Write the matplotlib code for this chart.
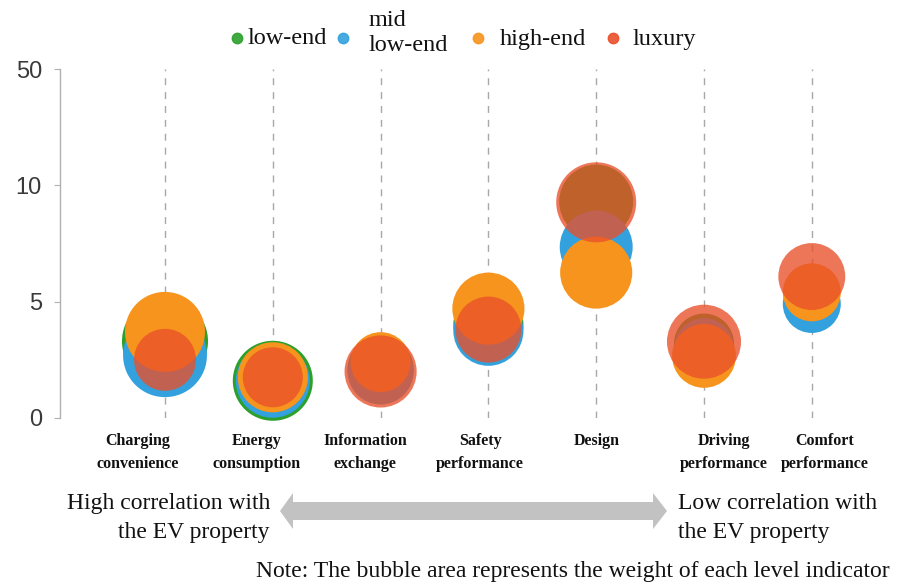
import numpy as np
import matplotlib
matplotlib.use("Agg")
import matplotlib.pyplot as plt
from matplotlib.lines import Line2D
from matplotlib.patches import Polygon

# ---------------- data ----------------
categories = ["Charging\nconvenience", "Energy\nconsumption", "Information\nexchange",
              "Safety\nperformance", "Design", "Driving\nperformance", "Comfort\nperformance"]
series_names = ["low-end", "mid\nlow-end", "high-end", "luxury"]

low_end_vals = [3.3, 1.6, 2.1, 4.0, 9.3, 3.2, 5.3]
mid_low_vals = [2.7, 1.6, 2.0, 3.75, 7.35, 3.0, 4.9]
high_end_vals = [3.7, 1.75, 2.4, 4.7, 6.25, 2.67, 5.4]
luxury_vals = [2.5, 1.75, 2.0, 3.8, 9.27, 3.28, 6.08]

# bubble weights (area-proportional)
low_end_w = [18.5, 16.0, 10.9, 12.3, 13.7, 9.0, 7.3]
mid_low_w = [17.6, 13.7, 10.9, 12.3, 13.3, 9.0, 8.4]
high_end_w = [16.0, 12.3, 9.0, 13.0, 13.0, 10.2, 8.4]
luxury_w = [9.6, 9.0, 13.0, 10.9, 16.0, 13.7, 11.2]

y_ticks = [0, 5, 10, 50]

# ---------------- style ----------------
W, H = 898, 585
fig = plt.figure(figsize=(W / 100, H / 100), dpi=100)

def fx(px):
    return px / W

def fy(py):
    return 1 - py / H

ax_left, ax_right, ax_top, ax_bot = 60, 870, 69, 418
ax = fig.add_axes([fx(ax_left), fy(ax_bot), fx(ax_right - ax_left), (ax_bot - ax_top) / H])

def fwd(v):
    v = np.asarray(v, dtype=float)
    return np.where(v <= 10, v / 5.0, 2.0 + (v - 10.0) / 40.0)

def inv(u):
    u = np.asarray(u, dtype=float)
    return np.where(u <= 2, u * 5.0, 10.0 + (u - 2.0) * 40.0)

ax.set_yscale("function", functions=(fwd, inv))
ax.set_ylim(0, 50)

x0_px, dx_px = 165, 107.8
ax.set_xlim((ax_left - x0_px) / dx_px, (ax_right - x0_px) / dx_px)

colors = ["#2ca02c", "#33a1dd", "#f7941d", "#e9502a"]
alphas = [1.0, 1.0, 1.0, 0.78]
SIZE_SCALE = 207.36

xs = np.arange(len(categories))
for xi in xs:
    ax.axvline(xi, color="#a8a8a8", lw=1.0, ls=(0, (5, 5)), zorder=0)

for k, (vals, w) in enumerate([(low_end_vals, low_end_w), (mid_low_vals, mid_low_w),
                               (high_end_vals, high_end_w), (luxury_vals, luxury_w)]):
    ax.scatter(xs, vals, s=np.array(w) * SIZE_SCALE, color=colors[k], alpha=alphas[k],
               linewidths=0, zorder=2 + k, clip_on=False)

for s in ["top", "right", "bottom"]:
    ax.spines[s].set_visible(False)
ax.spines["left"].set_color("#b0b0b0")
ax.spines["left"].set_linewidth(1.0)
ax.set_yticks(y_ticks)
ax.set_yticklabels([str(t) for t in y_ticks])
ax.yaxis.set_minor_locator(matplotlib.ticker.NullLocator())
ax.tick_params(axis="y", direction="out", length=4, color="#b0b0b0", pad=9,
               labelsize=17, labelcolor="#3a3a3a")
for lab in ax.get_yticklabels():
    lab.set_fontfamily("Liberation Sans")
ax.set_xticks([])

# category labels
label_x = [138, 257, 365, 480, 597, 724, 825]
for cx, cat in zip(label_x, categories):
    fig.text(fx(cx), fy(433), cat, ha="center", va="top", fontsize=11.5,
             fontweight="bold", family="Liberation Serif", linespacing=1.6, color="#111111")

# legend (manual)
leg_dots = [237, 343, 478, 613]
leg_text_x = [248, 369, 500, 633]
for k in range(4):
    fig.add_artist(Line2D([fx(leg_dots[k])], [fy(38)], marker="o", markersize=7.5,
                          color=colors[k], alpha=0.9, linestyle="none",
                          transform=fig.transFigure))
    cy = 33 if k == 1 else 39
    fig.text(fx(leg_text_x[k]), fy(cy), series_names[k], ha="left", va="center",
             fontsize=17.5, family="Liberation Serif", linespacing=1.3, color="#111111")

# bottom annotation
fig.text(fx(270), fy(518), "High correlation with\nthe EV property", ha="right", va="center",
         fontsize=17, family="Liberation Serif", linespacing=1.45, color="#111111")
fig.text(fx(678), fy(518), "Low correlation with\nthe EV property", ha="left", va="center",
         fontsize=17, family="Liberation Serif", linespacing=1.45, color="#111111")

arrow_px = [(280, 511), (293, 493), (293, 502), (653, 502), (653, 493), (667, 511),
            (653, 529), (653, 520), (293, 520), (293, 529)]
fig.add_artist(Polygon([(fx(a), fy(b)) for a, b in arrow_px], closed=True,
                       facecolor="#c2c2c2", edgecolor="none", transform=fig.transFigure))

fig.text(fx(890), fy(572), "Note: The bubble area represents the weight of each level indicator",
         ha="right", va="center", fontsize=17, family="Liberation Serif", color="#111111")

fig.savefig("out.png", dpi=100)
